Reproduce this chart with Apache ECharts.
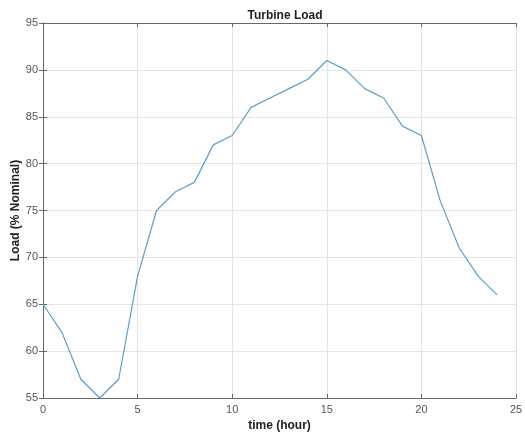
<!DOCTYPE html>
<html>
<head>
<meta charset="utf-8">
<script src="https://cdn.jsdelivr.net/npm/echarts@6/dist/echarts.min.js"></script>
<style>
  html, body { margin: 0; padding: 0; background: #fff; }
  #chart { width: 525px; height: 439px; }
</style>
</head>
<body>
<div id="chart"></div>
<script>
// Hourly turbine load over one day
const hours = [0, 1, 2, 3, 4, 5, 6, 7, 8, 9, 10, 11, 12, 13, 14, 15, 16, 17, 18, 19, 20, 21, 22, 23, 24];
const loads = [65, 62, 57, 55, 57, 68, 75, 77, 78, 82, 83, 86, 87, 88, 89, 91, 90, 88, 87, 84, 83, 76, 71, 68, 66];
const xTicks = [0, 5, 10, 15, 20, 25];
const yTicks = [55, 60, 65, 70, 75, 80, 85, 90, 95];

const font = 'Liberation Sans, Arial, Helvetica, sans-serif';
const axisColor = '#666';
const gridColor = '#e4e4e4';

const chart = echarts.init(document.getElementById('chart'), null, { renderer: 'canvas' });

const boxAxis = {
  axisLine: { show: true, lineStyle: { color: axisColor, width: 1 } },
  axisTick: { show: true, inside: true, length: 4, lineStyle: { color: axisColor } },
  axisLabel: { show: false },
  splitLine: { show: false }
};

chart.setOption({
  animation: false,
  backgroundColor: '#fff',
  title: {
    text: 'Turbine Load',
    left: 280,
    textAlign: 'center',
    top: 5,
    textStyle: { fontFamily: font, fontSize: 12, fontWeight: 'bold', color: '#222' }
  },
  grid: { left: 43, right: 9, top: 23, bottom: 41, containLabel: false, outerBoundsMode: 'none' },
  xAxis: [
    {
      type: 'value',
      min: xTicks[0],
      max: xTicks[xTicks.length - 1],
      interval: xTicks[1] - xTicks[0],
      name: 'time (hour)',
      nameLocation: 'middle',
      nameGap: 22,
      nameTextStyle: { fontFamily: font, fontSize: 12, fontWeight: 'bold', color: '#222' },
      axisLine: { show: true, lineStyle: { color: axisColor, width: 1 } },
      axisTick: { show: true, inside: true, length: 4, lineStyle: { color: axisColor } },
      axisLabel: { fontFamily: font, fontSize: 11, color: '#555', margin: 6 },
      splitLine: { show: true, lineStyle: { color: gridColor, width: 1 } }
    },
    Object.assign({
      type: 'value',
      position: 'top',
      min: xTicks[0],
      max: xTicks[xTicks.length - 1],
      interval: xTicks[1] - xTicks[0]
    }, boxAxis)
  ],
  yAxis: [
    {
      type: 'value',
      min: yTicks[0],
      max: yTicks[yTicks.length - 1],
      interval: yTicks[1] - yTicks[0],
      name: 'Load (% Nominal)',
      nameLocation: 'middle',
      nameGap: 21,
      nameMoveOverlap: false,
      nameTextStyle: { fontFamily: font, fontSize: 12, fontWeight: 'bold', color: '#222' },
      axisLine: { show: true, lineStyle: { color: axisColor, width: 1 } },
      axisTick: { show: true, inside: true, length: 4, lineStyle: { color: axisColor } },
      axisLabel: { fontFamily: font, fontSize: 11, color: '#555', margin: 5 },
      splitLine: { show: true, lineStyle: { color: gridColor, width: 1 } }
    },
    Object.assign({
      type: 'value',
      position: 'right',
      min: yTicks[0],
      max: yTicks[yTicks.length - 1],
      interval: yTicks[1] - yTicks[0]
    }, boxAxis)
  ],
  series: [
    {
      type: 'line',
      data: hours.map((h, i) => [h, loads[i]]),
      showSymbol: false,
      symbol: 'none',
      lineStyle: { color: '#5a9fcb', width: 1.2 },
      itemStyle: { color: '#5a9fcb' }
    }
  ]
});
</script>
</body>
</html>
